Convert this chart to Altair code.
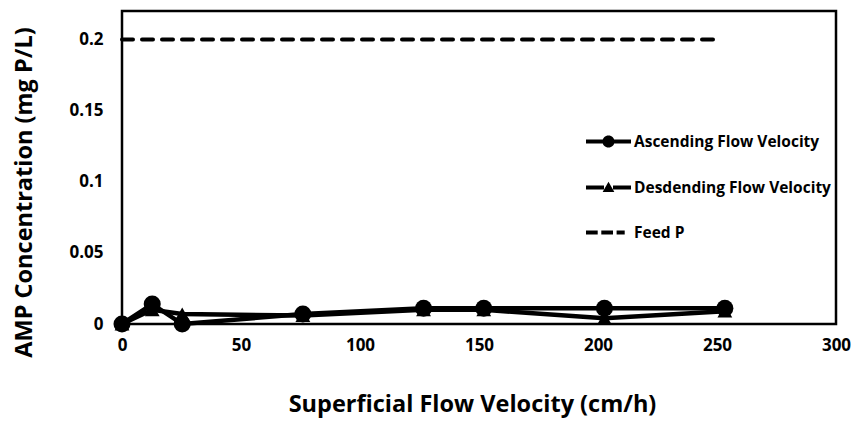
import altair as alt
import pandas as pd

velocity = [0, 12.7, 25.3, 76, 126.7, 152, 202.7, 253.3]
ascending = [0, 0.014, 0.0, 0.007, 0.011, 0.011, 0.011, 0.011]
descending = [0, 0.010, 0.007, 0.006, 0.010, 0.010, 0.004, 0.009]
feed_x = [0, 250]
feed_y = [0.2, 0.2]

series_names = ["Ascending Flow Velocity", "Desdending Flow Velocity", "Feed P"]

asc_df = pd.DataFrame({"x": velocity, "y": ascending, "series": series_names[0]})
desc_df = pd.DataFrame({"x": velocity, "y": descending, "series": series_names[1]})
feed_df = pd.DataFrame({"x": feed_x, "y": feed_y, "series": series_names[2]})
all_df = pd.concat([asc_df, desc_df, feed_df], ignore_index=True)

FONT = "Open Sans"

x_enc = alt.X("x:Q", scale=alt.Scale(domain=[0, 300], nice=False),
              axis=alt.Axis(values=[0, 50, 100, 150, 200, 250, 300],
                            title="Superficial Flow Velocity (cm/h)",
                            titleX=350, titleY=80, titleBaseline="middle"))
y_enc = alt.Y("y:Q", scale=alt.Scale(domain=[0, 0.22], nice=False),
              axis=alt.Axis(values=[0, 0.05, 0.1, 0.15, 0.2], format=".2~f",
                            title="AMP Concentration (mg P/L)",
                            titleX=-98, titleY=181, titleBaseline="middle"))

desc_line = alt.Chart(desc_df).mark_line(color="black", strokeWidth=4.5).encode(x=x_enc, y=y_enc)
desc_pts = alt.Chart(desc_df).mark_point(shape="triangle-up", filled=True, color="black",
                                         size=220, opacity=1).encode(x=x_enc, y=y_enc)
asc_line = alt.Chart(asc_df).mark_line(color="black", strokeWidth=4.5).encode(x=x_enc, y=y_enc)
asc_pts = alt.Chart(asc_df).mark_point(shape="circle", filled=True, color="black",
                                       size=290, opacity=1).encode(x=x_enc, y=y_enc)
feed_line = alt.Chart(feed_df).mark_line(color="black", strokeWidth=4, strokeDash=[11, 9],
                                         strokeCap="round").encode(x=x_enc, y=y_enc)

# legend glyphs drawn as filled shapes (line bar + marker) in the unit [-1, 1] box
circle_path = ("M-1,-0.09H-0.25V0.09H-1ZM0.25,-0.09H1V0.09H0.25Z"
               "M-0.27,0A0.27,0.27 0 1,1 0.27,0A0.27,0.27 0 1,1 -0.27,0Z")
tri_path = ("M-1,-0.09H-0.2V0.09H-1ZM0.2,-0.09H1V0.09H0.2Z"
            "M-0.26,0.2L0,-0.26L0.26,0.2Z")
dash_path = "M-1,-0.09H-0.48V0.09H-1ZM-0.32,-0.09H0.2V0.09H-0.32ZM0.36,-0.09H0.72V0.09H0.36Z"

# legend-only layer: no rows survive the filter, only the legend is drawn
legend_layer = alt.Chart(all_df).transform_filter("datum.x < -1").mark_point(
    opacity=1, filled=True, color="black", size=2025
).encode(
    x=x_enc, y=y_enc,
    shape=alt.Shape("series:N",
                    scale=alt.Scale(domain=series_names, range=[circle_path, tri_path, dash_path]),
                    legend=alt.Legend(title=None, orient="none", legendX=463, legendY=107,
                                      symbolSize=2025, symbolOpacity=1,
                                      symbolFillColor="black", labelOffset=2,
                                      labelFont=FONT, labelFontSize=15.5, labelFontWeight="bold",
                                      labelColor="black", rowPadding=13, labelLimit=400)),
)

chart = alt.layer(legend_layer, feed_line, desc_line, asc_line, desc_pts, asc_pts).properties(
    width=714, height=313,
    autosize=alt.AutoSizeParams(type="none"),
    padding={"left": 122, "top": 11, "right": 20, "bottom": 97},
    background="white",
).configure_view(
    stroke="black", strokeWidth=2.5
).configure_axis(
    grid=False, domain=False, ticks=False, labelFlush=False,
    labelFont=FONT, labelFontSize=17, labelFontWeight="bold", labelColor="black",
    titleFont=FONT, titleFontSize=23.5, titleFontWeight="bold", titleColor="black",
).configure_axisX(labelPadding=13).configure_axisY(labelPadding=19)

chart.save("out.html", embed_options={"renderer": "svg", "actions": False})
